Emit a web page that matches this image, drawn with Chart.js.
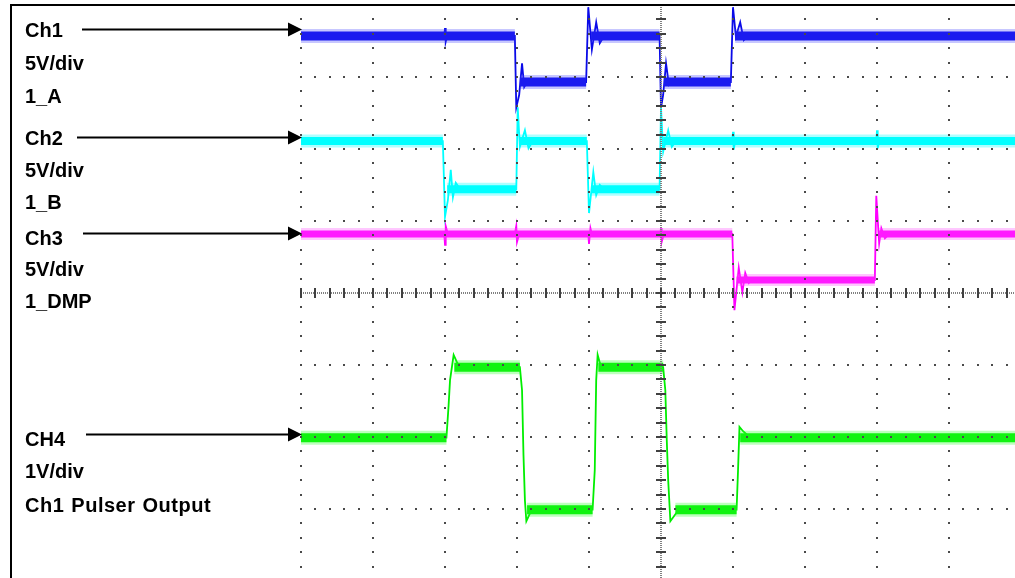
<!DOCTYPE html>
<html>
<head>
<meta charset="utf-8">
<title>Scope capture</title>
<script src="https://cdn.jsdelivr.net/npm/chart.js@4.4.0/dist/chart.umd.min.js"></script>
<style>
  html, body { margin:0; padding:0; background:#fff; overflow:hidden; }
  #wrap { position:relative; width:1015px; height:578px; overflow:hidden; }
  #scope { position:absolute; left:0; top:0; }
  .lbl { position:absolute; left:25px; font:bold 20px "Liberation Sans", Arial, sans-serif; line-height:20px; color:#000; white-space:nowrap; }
  .lbl.wide { letter-spacing:0.5px; word-spacing:1px; }
</style>
</head>
<body>
<div id="wrap">
  <canvas id="scope" width="1030" height="590"></canvas>
</div>
<script>
// ----------------- DATA (graticule divisions) -----------------
// x: time in divisions 0..10, y: divisions -4..4 (0 = centre line)

// Ch1 - 1_A
const ch1T = [0, 1.99, 2.0, 2.01, 2.03, 2.97, 2.99, 3.03, 3.07, 3.10, 3.14, 3.96, 3.99, 4.04, 4.10, 4.15, 4.21, 4.98, 5.00, 5.03, 5.07, 5.11, 5.15, 5.97, 6.00, 6.04, 6.10, 6.15, 6.21, 10];
const ch1V = [3.57, 3.57, 3.68, 3.49, 3.57, 3.57, 2.58, 2.75, 3.19, 2.86, 2.93, 2.93, 3.97, 3.38, 3.76, 3.47, 3.57, 3.57, 2.57, 2.75, 3.19, 2.89, 2.93, 2.93, 3.97, 3.56, 3.76, 3.51, 3.57, 3.57];
const ch1Seg = [[0, 2.97, 3.57], [3.04, 3.96, 2.93], [4.03, 4.98, 3.57], [5.04, 5.97, 2.93], [6.03, 10, 3.57]];

// Ch2 - 1_B
const ch2T = [0, 1.97, 2.0, 2.04, 2.08, 2.11, 2.15, 2.21, 2.99, 3.01, 3.04, 3.11, 3.16, 3.22, 3.97, 4.0, 4.06, 4.10, 4.15, 4.21, 4.98, 5.0, 5.03, 5.10, 5.15, 5.21, 5.99, 6.0, 6.01, 6.03, 7.99, 8.0, 8.01, 8.03, 10];
const ch2V = [2.11, 2.11, 1.06, 1.29, 1.71, 1.33, 1.53, 1.44, 1.44, 2.58, 2.03, 2.26, 2.01, 2.11, 2.11, 1.11, 1.68, 1.36, 1.50, 1.44, 1.44, 2.58, 1.96, 2.26, 2.03, 2.11, 2.11, 2.24, 1.99, 2.11, 2.11, 2.26, 2.01, 2.11, 2.11];
const ch2Seg = [[0, 1.97, 2.11], [2.03, 2.99, 1.44], [3.03, 3.97, 2.11], [4.03, 4.98, 1.44], [5.03, 10, 2.11]];

// Ch3 - 1_DMP
const ch3T = [0, 1.99, 2.0, 2.01, 2.04, 2.97, 2.99, 3.0, 3.03, 3.99, 4.0, 4.02, 4.04, 4.99, 5.0, 5.01, 5.04, 5.99, 6.02, 6.08, 6.13, 6.17, 6.22, 6.25, 7.97, 7.99, 8.03, 8.06, 8.11, 8.17, 10];
const ch3V = [0.82, 0.82, 0.67, 0.93, 0.82, 0.82, 0.93, 0.71, 0.82, 0.82, 0.68, 0.90, 0.82, 0.82, 0.90, 0.71, 0.82, 0.82, -0.24, 0.35, 0.01, 0.28, 0.14, 0.18, 0.18, 1.35, 0.69, 0.90, 0.76, 0.82, 0.82];
const ch3Seg = [[0, 5.99, 0.82], [6.05, 7.97, 0.18], [8.03, 10, 0.82]];

// CH4 - Ch1 Pulser Output
const ch4T = [0, 2.02, 2.05, 2.07, 2.10, 2.12, 2.17, 2.24, 3.04, 3.07, 3.09, 3.11, 3.13, 3.18, 3.25, 4.05, 4.08, 4.10, 4.12, 4.15, 4.22, 5.03, 5.06, 5.08, 5.10, 5.13, 5.21, 5.36, 6.05, 6.07, 6.09, 6.14, 6.24, 10];
const ch4V = [-2.01, -2.01, -1.56, -1.21, -1.0, -0.86, -0.97, -1.03, -1.03, -1.35, -2.25, -2.88, -3.17, -3.06, -3.01, -3.01, -2.46, -1.21, -0.86, -0.97, -1.03, -1.03, -1.35, -2.04, -2.60, -3.17, -3.06, -3.01, -3.01, -2.46, -1.86, -1.92, -2.01, -2.01];
const ch4Seg = [[0, 2.02, -2.01], [2.13, 3.04, -1.03], [3.14, 4.05, -3.01], [4.13, 5.03, -1.03], [5.2, 6.05, -3.01], [6.1, 10, -2.01]];

// channel markers (arrow level in divisions) and side texts
const chNames = ['Ch1', 'Ch2', 'Ch3', 'CH4'];
const arrowLevel = [3.66, 2.17, 0.83, -1.96];
const labelText = ['Ch1', '5V/div', '1_A', 'Ch2', '5V/div', '1_B', 'Ch3', '5V/div', '1_DMP', 'CH4', '1V/div', 'Ch1 Pulser Output'];

// ----------------- LAYOUT / STYLE -----------------
const labelTop = [20, 52.5, 85.5, 128, 160, 192, 227.5, 259, 291, 428.5, 460.5, 494.5];
const arrowStartPx = [82, 77, 83, 86];
const chCore = ['rgb(10,10,232)', 'rgb(0,255,255)', 'rgb(255,0,255)', 'rgb(0,238,0)'];
const chHalo = ['rgba(70,70,255,0.3)', 'rgba(0,255,255,0.32)', 'rgba(255,80,255,0.32)', 'rgba(50,255,50,0.32)'];
const bandW = [9, 8, 7, 9];

// side texts
const wrap = document.getElementById('wrap');
labelText.forEach((t, i) => {
  const d = document.createElement('div');
  d.className = t.indexOf(' ') >= 0 ? 'lbl wide' : 'lbl';
  d.style.top = labelTop[i] + 'px';
  d.textContent = t;
  wrap.appendChild(d);
});

function wavePoints(t, v) { return t.map((tt, i) => ({ x: tt, y: v[i] })); }
function bandPoints(seg) {
  const out = [];
  seg.forEach(s => { out.push({ x: s[0], y: s[2] }, { x: s[1], y: s[2] }, { x: s[1], y: null }); });
  return out;
}

const waves = [[ch1T, ch1V], [ch2T, ch2V], [ch3T, ch3V], [ch4T, ch4V]];
const segs = [ch1Seg, ch2Seg, ch3Seg, ch4Seg];

const datasets = [];
chNames.forEach((name, i) => {
  datasets.push({
    label: name + ' halo', data: bandPoints(segs[i]),
    borderColor: chHalo[i], borderWidth: bandW[i] + 5, borderCapStyle: 'butt'
  });
  datasets.push({
    label: name + ' band', data: bandPoints(segs[i]),
    borderColor: chCore[i], borderWidth: bandW[i], borderCapStyle: 'butt'
  });
  datasets.push({
    label: name, data: wavePoints(waves[i][0], waves[i][1]),
    borderColor: chCore[i], borderWidth: 1.8
  });
});

// ----------------- GRATICULE + ARROWS -----------------
const scopeDeco = {
  id: 'scopeDeco',
  afterDatasetsDraw(chart) {
    const { ctx, scales: { x, y } } = chart;
    ctx.save();
    ctx.fillStyle = '#4a4a4a';
    // major lines drawn as dots on every minor step
    for (let i = 0; i <= 10; i++) {
      const px = Math.round(x.getPixelForValue(i));
      for (let k = 0; k <= 40; k++) {
        const py = Math.round(y.getPixelForValue(-4 + k * 0.2));
        ctx.fillRect(px - 1, py - 1, 2, 2);
      }
    }
    for (let j = -4; j <= 4; j++) {
      const py = Math.round(y.getPixelForValue(j));
      for (let k = 0; k <= 50; k++) {
        const px = Math.round(x.getPixelForValue(k * 0.2));
        ctx.fillRect(px - 1, py - 1, 2, 2);
      }
    }
    // centre axes: fine dotted + tick marks
    const cx = Math.round(x.getPixelForValue(5));
    const cy = Math.round(y.getPixelForValue(0));
    ctx.fillStyle = '#808080';
    for (let p = Math.round(x.left); p < x.right; p += 2) ctx.fillRect(p, cy - 1, 1, 2);
    for (let p = Math.round(y.top); p < y.bottom; p += 2) ctx.fillRect(cx - 1, p, 2, 1);
    ctx.fillStyle = '#404040';
    for (let k = 0; k <= 50; k++) {
      const px = Math.round(x.getPixelForValue(k * 0.2));
      ctx.fillRect(px - 1, cy - 5, 2, 10);
    }
    for (let k = 0; k <= 40; k++) {
      const py = Math.round(y.getPixelForValue(-4 + k * 0.2));
      ctx.fillRect(cx - 5, py - 1, 10, 2);
    }
    ctx.restore();
  },
  afterDraw(chart) {
    const { ctx, scales: { x, y } } = chart;
    ctx.save();
    // outer frame (top + left)
    ctx.fillStyle = '#000';
    ctx.fillRect(10, 4, chart.width, 2);
    ctx.fillRect(10, 4, 2, chart.height);
    // channel arrows
    const tip = x.getPixelForValue(0) + 1;
    arrowLevel.forEach((lv, i) => {
      const py = Math.round(y.getPixelForValue(lv)) + 0.5;
      ctx.strokeStyle = '#000';
      ctx.lineWidth = 2;
      ctx.beginPath();
      ctx.moveTo(arrowStartPx[i], py);
      ctx.lineTo(tip - 12, py);
      ctx.stroke();
      ctx.beginPath();
      ctx.moveTo(tip - 14, py - 7);
      ctx.lineTo(tip, py);
      ctx.lineTo(tip - 14, py + 7);
      ctx.closePath();
      ctx.fill();
    });
    ctx.restore();
  }
};

// ----------------- CHART -----------------
new Chart(document.getElementById('scope'), {
  type: 'line',
  data: { datasets: datasets },
  options: {
    responsive: false,
    animation: false,
    devicePixelRatio: 1,
    layout: { padding: { left: 301, right: 9, top: 5, bottom: 9 } },
    elements: { point: { radius: 0 }, line: { tension: 0, fill: false } },
    spanGaps: false,
    scales: {
      x: { type: 'linear', min: 0, max: 10, display: false },
      y: { type: 'linear', min: -4, max: 4, display: false }
    },
    plugins: { legend: { display: false }, tooltip: { enabled: false } }
  },
  plugins: [scopeDeco]
});
</script>
</body>
</html>
